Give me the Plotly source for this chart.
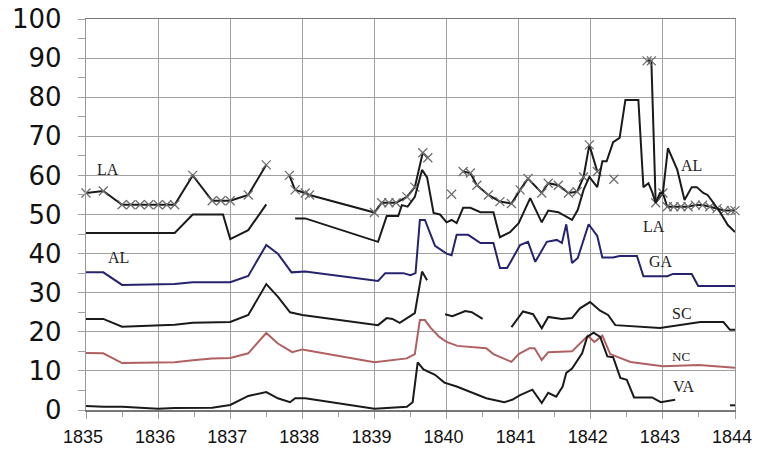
import plotly.graph_objects as go

# ---- data (year, value); None = gap ----
la_x = [1835.0, 1835.24, 1835.5, 1835.62, 1835.75, 1835.87, 1836.0, 1836.12, 1836.23, 1836.48, 1836.75, 1836.87, 1837.0, 1837.25, 1837.5,
        1837.6,
        1837.82, 1837.9, 1838.04, 1838.1, 1839.0, 1839.1, 1839.2, 1839.3, 1839.45, 1839.56, 1839.67, 1839.74,
        1839.9,
        1840.07,
        1840.15,
        1840.23, 1840.33, 1840.42, 1840.58, 1840.74, 1840.9, 1841.02, 1841.13, 1841.32, 1841.41, 1841.55, 1841.69, 1841.81, 1841.9, 1841.98, 1842.09,
        1842.2,
        1842.32,
        1842.5,
        1842.78, 1842.84, 1842.9, 1843.0, 1843.06, 1843.15, 1843.25, 1843.35, 1843.45, 1843.55, 1843.65, 1843.75, 1843.85, 1843.95, 1844.0]
la_y = [55.5, 56, 52.5, 52.5, 52.5, 52.5, 52.5, 52.5, 52.5, 60, 53.5, 53.5, 53.5, 55, 62.7,
        None,
        60, 56.3, 55.5, 55, 50.5, 53, 53, 53, 54.5, 57, 65.8, 64.5,
        None,
        55.2,
        None,
        61, 60.6, 57.5, 55, 53.3, 52.8, 56.3, 59.2, 55.5, 58, 57.5, 55.5, 55.8, 59.6, 67.8, 61,
        None,
        59,
        None,
        89.3, 89.3, 53, 55.5, 52, 52, 52, 52, 52.4, 52.4, 52, 51.5, 51, 51, 51]

al_x = [1835.0, 1836.23, 1836.48, 1836.9, 1837.0, 1837.25, 1837.5,
        1837.7,
        1837.9, 1838.04, 1839.05, 1839.17, 1839.33, 1839.38, 1839.46, 1839.56, 1839.66, 1839.73, 1839.82, 1839.91, 1840.0, 1840.07, 1840.14,
        1840.23, 1840.33, 1840.47, 1840.65, 1840.74, 1840.88, 1841.0, 1841.16, 1841.32, 1841.41, 1841.55, 1841.74, 1841.82, 1841.9,
        1841.98, 1842.09, 1842.16, 1842.22, 1842.31, 1842.4, 1842.48, 1842.66, 1842.73, 1842.8, 1842.85, 1842.9, 1842.96, 1843.0,
        1843.07, 1843.2, 1843.3, 1843.4, 1843.47, 1843.56, 1843.62, 1843.7, 1843.8, 1843.9, 1844.0]
al_y = [45.3, 45.3, 50, 50, 43.7, 46, 52.6,
        None,
        49, 49, 43, 49.6, 49.6, 52.4, 52, 54.5, 61.4, 59.5, 50.4, 50, 48, 48.6, 47.8,
        51.7, 51.7, 50.6, 50.6, 44.2, 45.5, 47.8, 54.2, 48, 51, 50.6, 48.6, 51.2, 56.3,
        59.6, 57, 63.6, 63.6, 68.5, 69.6, 79.3, 79.3, 57, 58, 55.8, 53, 55.5, 55.5,
        67, 61.4, 53.7, 57, 57, 55.5, 55, 53, 50.4, 47.3, 45.5]

ga_x = [1835.0, 1835.24, 1835.5, 1836.23, 1836.48, 1837.0, 1837.25, 1837.5, 1837.66, 1837.85, 1838.04, 1839.05, 1839.15, 1839.4,
        1839.5, 1839.57, 1839.63, 1839.7, 1839.84, 1840.0, 1840.07, 1840.14, 1840.3, 1840.47, 1840.65, 1840.74, 1840.84, 1841.02,
        1841.13, 1841.23, 1841.39, 1841.53, 1841.6, 1841.66, 1841.74, 1841.82, 1841.97, 1842.09, 1842.16, 1842.31, 1842.4, 1842.64,
        1842.73, 1843.06, 1843.14, 1843.4, 1843.49, 1844.0]
ga_y = [35.2, 35.2, 32, 32.2, 32.7, 32.7, 34.3, 42.2, 40, 35.2, 35.4, 33, 35, 35,
        34.5, 35, 48.6, 48.6, 42, 40, 39.6, 44.8, 44.8, 42.7, 42.7, 36.3, 36.3, 42.2,
        43, 37.9, 43, 43.5, 42.7, 47.5, 37.6, 38.9, 47.5, 44.5, 39, 39, 39.4, 39.4,
        34.2, 34.2, 34.8, 34.8, 31.7, 31.7]

sc_x = [1835.0, 1835.24, 1835.5, 1836.23, 1836.48, 1837.0, 1837.25, 1837.5, 1837.66, 1837.83, 1838.0, 1839.05, 1839.17, 1839.25,
        1839.35, 1839.56, 1839.66, 1839.73,
        1839.85,
        1839.98, 1840.08, 1840.26, 1840.35, 1840.5,
        1840.7,
        1840.9, 1841.06, 1841.2, 1841.32, 1841.41, 1841.6, 1841.74, 1841.85, 1841.99, 1842.13, 1842.24, 1842.34, 1842.96, 1843.52,
        1843.84, 1843.93, 1844.0]
sc_y = [23.3, 23.3, 21.3, 21.8, 22.3, 22.5, 24.3, 32.2, 29, 25, 24.3, 21.7, 23.5, 23.3,
        22.3, 24.8, 35.4, 33.2,
        None,
        24.5, 24, 25.3, 25, 23.3,
        None,
        21.2, 25.2, 24.5, 20.9, 23.8, 23.3, 23.5, 26, 27.6, 25.4, 24.3, 21.7, 21, 22.5,
        22.5, 20.5, 20.5]

nc_x = [1835.0, 1835.24, 1835.5, 1836.23, 1836.48, 1836.75, 1837.0, 1837.25, 1837.5, 1837.66, 1837.86, 1838.0, 1839.0, 1839.45,
        1839.56, 1839.63, 1839.7, 1839.78, 1839.9, 1840.0, 1840.15, 1840.26, 1840.55, 1840.65, 1840.9, 1841.0, 1841.15, 1841.22,
        1841.32, 1841.41, 1841.74, 1841.96, 1842.05, 1842.16, 1842.27, 1842.55, 1843.0, 1843.5, 1844.0]
nc_y = [14.6, 14.5, 12, 12.2, 12.7, 13.2, 13.3, 14.5, 19.7, 17, 14.8, 15.5, 12.2, 13.2,
        14.3, 23, 23, 21, 18.7, 17.4, 16.4, 16.2, 15.8, 14.3, 12.3, 14.3, 15.8, 15.8,
        12.8, 14.8, 15, 19, 17.4, 19, 14.3, 12.3, 11.2, 11.5, 10.8]

va_x = [1835.0, 1835.24, 1835.5, 1836.0, 1836.23, 1836.75, 1837.0, 1837.25, 1837.5, 1837.66, 1837.83, 1837.9, 1838.04, 1839.0,
        1839.45, 1839.53, 1839.6, 1839.68, 1839.84, 1839.97, 1840.14, 1840.32, 1840.55, 1840.8, 1840.91, 1841.02, 1841.19,
        1841.32, 1841.41, 1841.52, 1841.61, 1841.66, 1841.74, 1841.88, 1841.95, 1842.04, 1842.13, 1842.23, 1842.31, 1842.41,
        1842.5, 1842.6, 1842.85, 1842.97, 1843.17,
        1843.5,
        1843.93, 1844.0]
va_y = [1.0, 0.8, 0.8, 0.3, 0.5, 0.6, 1.3, 3.6, 4.6, 3, 2, 3, 3, 0.3,
        0.8, 2, 12.2, 10.4, 9, 7, 6, 4.6, 3, 2, 2.6, 3.8, 5.2,
        1.8, 4.4, 3.4, 6, 9.5, 10.6, 14.5, 18.7, 19.8, 18.7, 13.7, 13.5, 8.2,
        7.7, 3.2, 3.2, 2, 2.6,
        None,
        1.2, 1.2]

# label annotations (text, year, value)
lab_text = ["LA", "AL", "AL", "LA", "GA", "SC", "NC", "VA"]
lab_x = [1835.3, 1835.45, 1843.4, 1842.87, 1842.98, 1843.27, 1843.25, 1843.28]
lab_y = [61.4, 39.1, 62.6, 47.0, 37.9, 24.6, 13.6, 6.0]
lab_size = [16, 16, 16, 16, 16, 16, 13, 16]

year_ticks = list(range(1835, 1845))
y_ticks = list(range(0, 101, 10))

fig = go.Figure()

line_w = 2
fig.add_trace(go.Scatter(x=la_x, y=la_y, mode="lines+markers",
                         line=dict(color="#1a1a1a", width=line_w),
                         marker=dict(symbol="x-thin", size=9, line=dict(color="#6e6e6e", width=1.3)),
                         connectgaps=False, showlegend=False, cliponaxis=False))
fig.add_trace(go.Scatter(x=al_x, y=al_y, mode="lines", line=dict(color="#1a1a1a", width=line_w),
                         connectgaps=False, showlegend=False))
fig.add_trace(go.Scatter(x=ga_x, y=ga_y, mode="lines", line=dict(color="#25236e", width=line_w),
                         showlegend=False))
fig.add_trace(go.Scatter(x=sc_x, y=sc_y, mode="lines", line=dict(color="#1a1a1a", width=line_w),
                         connectgaps=False, showlegend=False))
fig.add_trace(go.Scatter(x=nc_x, y=nc_y, mode="lines", line=dict(color="#b06060", width=line_w),
                         showlegend=False))
fig.add_trace(go.Scatter(x=va_x, y=va_y, mode="lines", line=dict(color="#1a1a1a", width=line_w),
                         connectgaps=False, showlegend=False))

for t, xx, yy, s in zip(lab_text, lab_x, lab_y, lab_size):
    fig.add_annotation(x=xx, y=yy, text=t, showarrow=False,
                       font=dict(family="Liberation Serif", size=s, color="#222"))

fig.update_layout(
    width=757, height=454,
    margin=dict(l=86, r=22, t=19, b=44, autoexpand=False),
    paper_bgcolor="white", plot_bgcolor="white",
    showlegend=False,
    hovermode=False,
)
fig.update_xaxes(
    range=[1835, 1844], tickmode="array", tickvals=year_ticks, ticktext=[str(v) for v in year_ticks],
    showgrid=True, gridcolor="#a0a0a0", gridwidth=1,
    ticks="outside", ticklen=7, tickcolor="#a0a0a0",
    minor=dict(dtick=0.5, tick0=1835, ticks="outside", ticklen=5, tickcolor="#a0a0a0", showgrid=False),
    showline=True, linecolor="#777", linewidth=1.5, mirror=True,
    tickfont=dict(family="Liberation Sans", size=18, color="#111"),
    ticklabelstandoff=3, ticklabelshift=-3, ticklabeloverflow="allow",
    automargin=False,
    zeroline=False,
)
fig.update_yaxes(
    range=[0, 100], tickmode="array", tickvals=y_ticks, ticktext=[str(v) for v in y_ticks],
    showgrid=True, gridcolor="#a0a0a0", gridwidth=1,
    ticks="outside", ticklen=7, tickcolor="#a0a0a0",
    minor=dict(dtick=5, tick0=0, ticks="outside", ticklen=7, tickcolor="#a0a0a0", showgrid=False),
    showline=True, linecolor="#999", linewidth=1.2, mirror=True,
    tickfont=dict(family="DejaVu Sans", size=26, color="#111"),
    ticklabelstandoff=11, ticklabeloverflow="allow",
    automargin=False,
    zeroline=False,
)

# remove the browser's default 8px body margin so the figure fills the window exactly
fig.write_html("out.html",
               config={"displayModeBar": False, "staticPlot": True},
               post_script="document.body.style.margin='0px';document.body.style.overflow='hidden';")
